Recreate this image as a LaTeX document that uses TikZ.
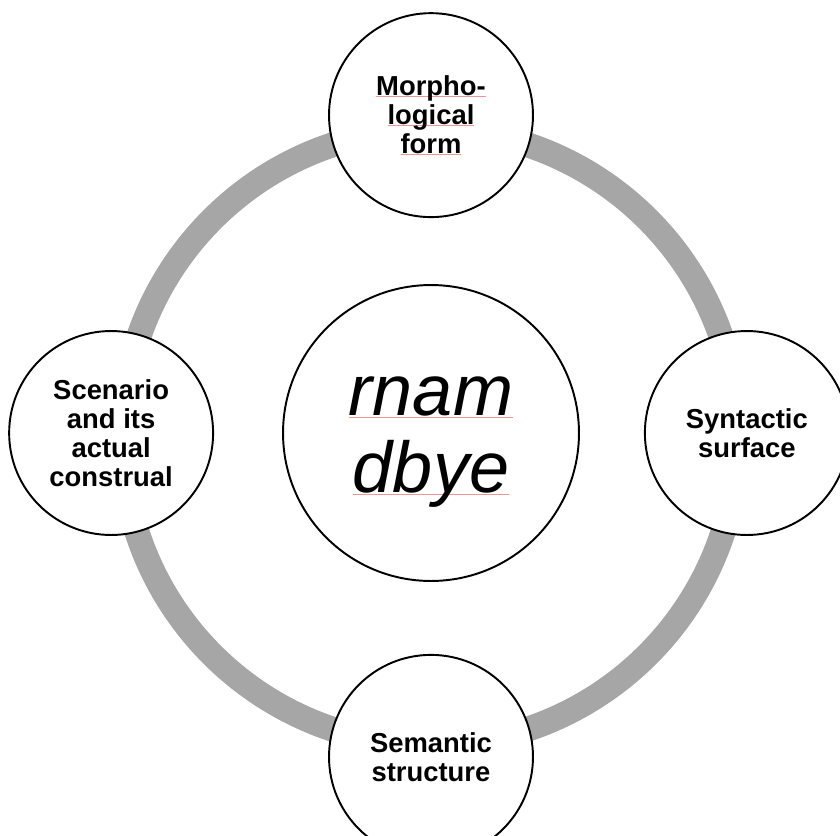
\documentclass[tikz,border=0pt]{standalone}
\usepackage{fontspec}
\setmainfont{Liberation Sans}
\usepackage{tikz}
\usetikzlibrary{positioning}
\definecolor{ringgrey}{RGB}{166,166,166}
\definecolor{spellred}{RGB}{238,150,150}
\newcommand{\spellmark}[1]{\setbox0\hbox{#1}\rlap{\textcolor{spellred}{\rule[-1pt]{\wd0}{0.5pt}}}\box0}

\begin{document}
\begin{tikzpicture}[x=0.02cm, y=-0.02cm, line width=1.1pt,
	stage/.style={circle, draw, fill=white, minimum size=4.08cm, inner sep=0pt, align=center, font=\bfseries\fontsize{15.6}{16.6}\selectfont},
	hub/.style={circle, draw, fill=white, minimum size=5.92cm, inner sep=0pt, align=center, font=\itshape\fontsize{41}{44}\selectfont},
	ring/.style={draw=ringgrey, line width=0.5cm}]
	\useasboundingbox (0,0) rectangle (840,836);
	\coordinate (mid) at (430,437);
	\draw [ring] (mid) circle (6.16cm);
	\node [hub] (word) at (431,433) {\rule{0pt}{0.8em}\spellmark{rnam}\\\spellmark{dbye}};
	\node [stage] (morph) [above=1.32cm of word] {\spellmark{Morpho-}\\\spellmark{logical}\\\spellmark{form}};
	\node [stage] (syntax) [right=1.28cm of word] {Syntactic\\surface};
	\node [stage] (sem) [below=1.44cm of word] {Semantic\\structure};
	\node [stage] (scen) [left=1.36cm of word] {Scenario\\and its\\actual\\construal};
\end{tikzpicture}
\end{document}
